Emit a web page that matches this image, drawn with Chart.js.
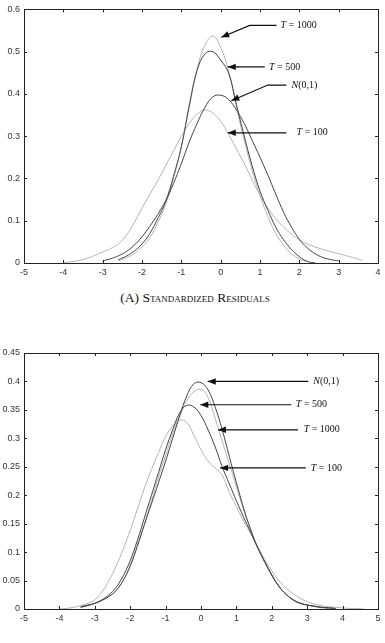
<!DOCTYPE html>
<html>
<head>
<meta charset="utf-8">
<script src="https://cdn.jsdelivr.net/npm/chart.js@4.4.1/dist/chart.umd.min.js"></script>
<style>
  body { margin: 0; background: #fff; width: 385px; height: 643px; position: relative; overflow: hidden; }
  .box { position: absolute; left: 0; width: 385px; }
  #caption { position: absolute; top: 290px; left: 0; width: 390px; text-align: center;
    font-family: "Liberation Serif", "Times New Roman", serif; font-size: 13.5px; font-variant: small-caps; color: #111; }
</style>
</head>
<body>
<div class="box" style="top:0;height:285px"><canvas id="topChart"></canvas></div>
<div id="caption">(A) Standardized Residuals</div>
<div class="box" style="top:340px;height:300px"><canvas id="botChart"></canvas></div>
<script>
// grid of x values (top panel)
var xTop = [-4.0,-3.8,-3.6,-3.4,-3.2,-3.0,-2.8,-2.6,-2.4,-2.2,
  -2.0,-1.8,-1.6,-1.4,-1.2,-1.0,-0.8,-0.6,-0.4,-0.2,
  0,0.2,0.4,0.6,0.8,1.0,1.2,1.4,1.6,1.8,
  2.0,2.2,2.4,2.6,2.8,3.0,3.2,3.4,3.6,3.8];
var topN01 = [null,null,null,null,null,0.005,0.01,0.017,0.027,0.042,
  0.062,0.087,0.115,0.147,0.188,0.235,0.286,0.33,0.368,0.393,
  0.397,0.387,0.362,0.33,0.29,0.25,0.208,0.163,0.12,0.085,
  0.056,0.036,0.022,0.013,0.008,0.005,null,null,null,null];
var topT500 = [null,null,null,null,null,null,null,0.008,0.016,0.028,
  0.045,0.07,0.105,0.145,0.205,0.275,0.37,0.455,0.495,0.50,
  0.48,0.45,0.375,0.3,0.23,0.17,0.125,0.085,0.055,0.032,
  0.015,0.004,0.0,null,null,null,null,null,null,null];
var topT1000 = [null,null,null,null,null,null,null,0.005,0.012,0.022,
  0.038,0.06,0.095,0.138,0.2,0.275,0.375,0.46,0.515,0.537,
  0.51,0.455,0.37,0.29,0.22,0.16,0.11,0.07,0.042,0.022,
  0.01,0.003,null,null,null,null,null,null,null,null];
var topT100 = [0.001,0.003,0.006,0.011,0.018,0.026,0.034,0.045,0.065,0.095,
  0.13,0.163,0.195,0.23,0.265,0.30,0.33,0.352,0.362,0.355,
  0.335,0.305,0.27,0.235,0.197,0.16,0.13,0.105,0.085,0.068,
  0.055,0.045,0.038,0.032,0.027,0.022,0.017,0.012,0.006,null];

// bottom panel
var xBot = [-4.0,-3.8,-3.6,-3.4,-3.2,-3.0,-2.8,-2.6,-2.4,-2.2,
  -2.0,-1.8,-1.6,-1.4,-1.2,-1.0,-0.8,-0.6,-0.4,-0.2,
  0,0.2,0.4,0.6,0.8,1.0,1.2,1.4,1.6,1.8,
  2.0,2.2,2.4,2.6,2.8,3.0,3.2,3.4,3.6,3.8,
  4.0,4.2,4.4,4.6];
var botN01 = [null,null,null,0.003,0.006,0.01,0.015,0.022,0.032,0.05,
  0.075,0.11,0.148,0.185,0.222,0.26,0.3,0.34,0.375,0.396,
  0.398,0.385,0.355,0.315,0.268,0.222,0.178,0.14,0.108,0.083,
  0.06,0.04,0.026,0.016,0.01,0.007,0.005,0.003,0.002,0.001,
  null,null,null,null];
var botT500 = [null,null,null,0.004,0.007,0.01,0.016,0.025,0.038,0.058,
  0.085,0.12,0.16,0.2,0.24,0.28,0.315,0.345,0.358,0.355,
  0.34,0.315,0.285,0.25,0.22,0.19,0.162,0.135,0.108,0.083,
  0.06,0.04,0.026,0.016,0.01,0.007,0.005,0.003,0.002,0.001,
  null,null,null,null];
var botT1000 = [null,null,null,0.003,0.006,0.01,0.016,0.022,0.033,0.05,
  0.078,0.112,0.15,0.19,0.232,0.27,0.308,0.34,0.366,0.382,
  0.386,0.372,0.335,0.295,0.255,0.215,0.175,0.14,0.108,0.082,
  0.058,0.04,0.026,0.017,0.011,0.007,0.004,0.002,0.001,null,
  null,null,null,null];
var botT100 = [0.0,0.001,0.003,0.006,0.01,0.016,0.03,0.05,0.075,0.105,
  0.138,0.175,0.212,0.245,0.275,0.303,0.322,0.332,0.328,0.305,
  0.28,0.26,0.248,0.235,0.205,0.18,0.155,0.133,0.11,0.087,
  0.067,0.05,0.037,0.027,0.019,0.013,0.009,0.006,0.004,0.003,
  0.002,0.001,0.001,0.0];

// arrow labels: [italic part, rest, path (tail ... tip), text x, text y]
var topNotes = [
  ["T", " = 1000", [[1.42,0.562],[0.74,0.562],[0.015,0.534]], 1.52, 0.562],
  ["T", " = 500", [[1.12,0.464],[0.18,0.464]], 1.23, 0.464],
  ["N", "(0,1)", [[1.67,0.421],[1.2,0.421],[0.27,0.384]], 1.8, 0.421],
  ["T", " = 100", [[1.67,0.308],[0.18,0.308]], 1.93, 0.308]
];
var botNotes = [
  ["N", "(0,1)", [[3.03,0.4],[0.19,0.4]], 3.17, 0.4],
  ["T", " = 500", [[2.55,0.359],[-0.02,0.359]], 2.68, 0.359],
  ["T", " = 1000", [[2.74,0.315],[0.48,0.315]], 2.9, 0.315],
  ["T", " = 100", [[2.96,0.248],[0.54,0.248]], 3.1, 0.248]
];

var DARK = "#444", LIGHT = "#b4b4b4";

function pts(xs, ys) {
  return xs.map(function(x, i) { return {x: x, y: ys[i]}; });
}

// matlab style box with inward ticks, plus the arrows
var framePlugin = {
  id: "frame",
  afterDraw: function(chart) {
    var ctx = chart.ctx, a = chart.chartArea;
    var xs = chart.scales.x, ys = chart.scales.y;
    ctx.save();
    ctx.strokeStyle = "#222";
    ctx.lineWidth = 1;
    ctx.strokeRect(Math.round(a.left) + 0.5, Math.round(a.top) + 0.5,
      Math.round(a.right - a.left), Math.round(a.bottom - a.top));
    ctx.beginPath();
    xs.ticks.forEach(function(t) {
      var p = Math.round(xs.getPixelForValue(t.value)) + 0.5;
      ctx.moveTo(p, a.bottom); ctx.lineTo(p, a.bottom - 3);
      ctx.moveTo(p, a.top); ctx.lineTo(p, a.top + 3);
    });
    ys.ticks.forEach(function(t) {
      var p = Math.round(ys.getPixelForValue(t.value)) + 0.5;
      ctx.moveTo(a.left, p); ctx.lineTo(a.left + 3, p);
      ctx.moveTo(a.right, p); ctx.lineTo(a.right - 3, p);
    });
    ctx.stroke();

    var notes = chart.options.plugins.frame.notes;
    notes.forEach(function(n) {
      var path = n[2].map(function(q) { return [xs.getPixelForValue(q[0]), ys.getPixelForValue(q[1])]; });
      ctx.strokeStyle = "#111";
      ctx.lineWidth = 1.2;
      ctx.beginPath();
      path.forEach(function(p, i) { if (i == 0) ctx.moveTo(p[0], p[1]); else ctx.lineTo(p[0], p[1]); });
      ctx.stroke();
      var tip = path[path.length - 1], prev = path[path.length - 2];
      var ang = Math.atan2(tip[1] - prev[1], tip[0] - prev[0]);
      ctx.fillStyle = "#111";
      ctx.beginPath();
      ctx.moveTo(tip[0], tip[1]);
      ctx.lineTo(tip[0] - 8 * Math.cos(ang) + 3.2 * Math.sin(ang), tip[1] - 8 * Math.sin(ang) - 3.2 * Math.cos(ang));
      ctx.lineTo(tip[0] - 8 * Math.cos(ang) - 3.2 * Math.sin(ang), tip[1] - 8 * Math.sin(ang) + 3.2 * Math.cos(ang));
      ctx.closePath();
      ctx.fill();
      var tx = xs.getPixelForValue(n[3]), ty = ys.getPixelForValue(n[4]);
      ctx.textBaseline = "middle";
      ctx.textAlign = "left";
      ctx.font = "italic 10px 'Liberation Serif', serif";
      ctx.fillText(n[0], tx, ty);
      var w = ctx.measureText(n[0]).width;
      ctx.font = "10px 'Liberation Serif', serif";
      ctx.fillText(n[1], tx + w, ty);
    });
    ctx.restore();
  }
};

function makeChart(id, xs, series, xmax, ymax, ystep, pad, notes) {
  var styles = [DARK, DARK, LIGHT, LIGHT];
  return new Chart(id, {
    type: "line",
    data: {
      datasets: series.map(function(s, i) {
        return {
          data: pts(xs, s),
          borderColor: styles[i],
          borderWidth: 1,
          pointRadius: 0,
          tension: 0.4,
          fill: false
        };
      })
    },
    options: {
      responsive: true,
      maintainAspectRatio: false,
      animation: false,
      layout: {padding: pad},
      plugins: {legend: {display: false}, tooltip: {enabled: false}, frame: {notes: notes}},
      scales: {
        x: {
          type: "linear", min: -5, max: xmax,
          grid: {display: false, drawTicks: false}, border: {display: false},
          afterFit: function(s) { s.height = 22; },
          ticks: {stepSize: 1, padding: 4, color: "#333", maxRotation: 0,
            font: {family: "'Liberation Sans', Arial, sans-serif", size: 9}}
        },
        y: {
          min: 0, max: ymax,
          grid: {display: false, drawTicks: false}, border: {display: false},
          afterFit: function(s) { s.width = 24; },
          ticks: {stepSize: ystep, padding: 4, color: "#333",
            callback: function(v) { return String(Math.round(v * 100) / 100); },
            font: {family: "'Liberation Sans', Arial, sans-serif", size: 9}}
        }
      }
    },
    plugins: [framePlugin]
  });
}

makeChart("topChart", xTop, [topN01, topT500, topT1000, topT100], 4, 0.6, 0.1,
  {top: 6, right: 7, left: 0, bottom: 0}, topNotes);
makeChart("botChart", xBot, [botN01, botT500, botT1000, botT100], 5, 0.45, 0.05,
  {top: 13, right: 7, left: 0, bottom: 9}, botNotes);
</script>
</body>
</html>
